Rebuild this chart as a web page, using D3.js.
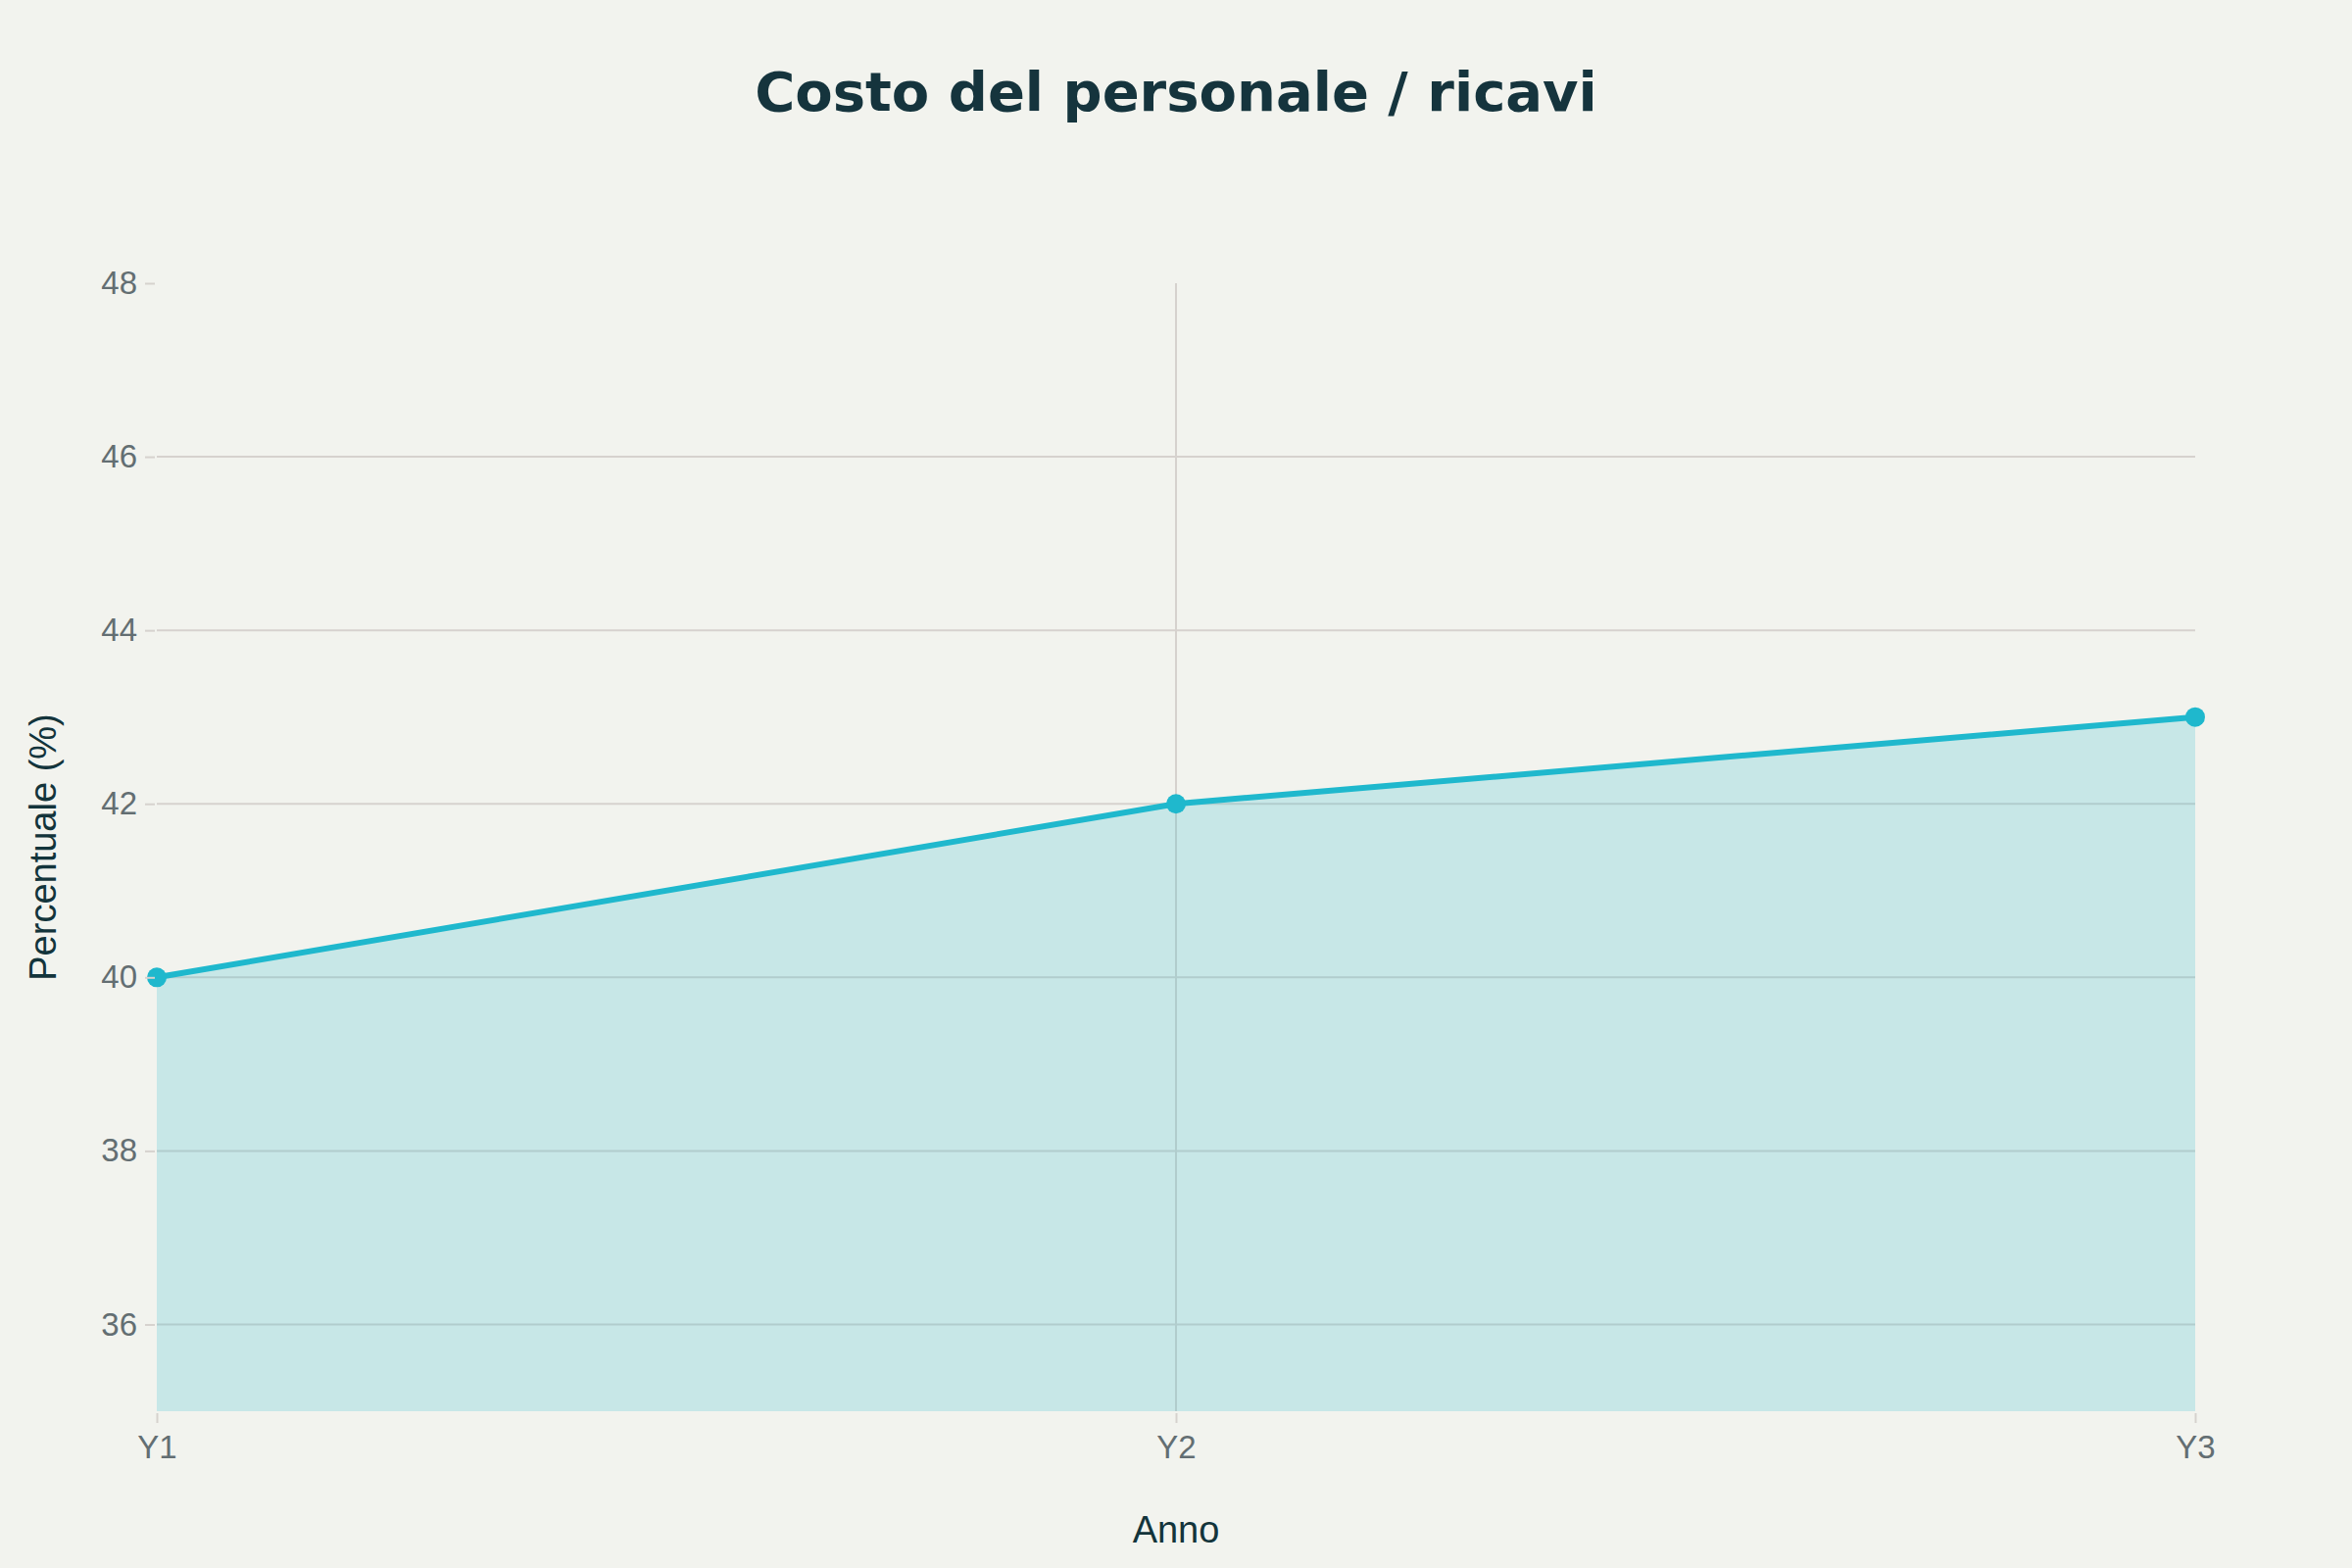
<!DOCTYPE html>
<html>
<head>
  <meta charset="utf-8">
  <title>Costo del personale / ricavi</title>
  <style>
    html, body { margin: 0; padding: 0; background: #f2f3ee; }
    svg { display: block; }
    .tick text { font-family: 'Liberation Sans', Arial, sans-serif; font-size: 33px; fill: #636e72; }
    .axis-title { font-family: 'Liberation Sans', Arial, sans-serif; font-size: 38px; fill: #13343b; }
    .title { font-family: 'DejaVu Sans', Verdana, sans-serif; font-weight: bold; font-size: 56px; fill: #15343d; }
  </style>
</head>
<body>
<svg width="2400" height="1600"></svg>
<script src="https://d3js.org/d3.v7.min.js"></script>
<script>
  // data
  const years = ["Y1", "Y2", "Y3"];
  const values = [40, 42, 43];
  const yTicks = [36, 38, 40, 42, 44, 46, 48];

  const width = 2400, height = 1600;
  const margin = { top: 289, right: 160, bottom: 160, left: 160 };
  const lineColor = "#1fb8cd";
  const gridColor = "#d6d2ce";

  const svg = d3.select("svg");
  const data = years.map((y, i) => ({ year: y, value: values[i] }));

  const x = d3.scalePoint()
      .domain(years)
      .range([margin.left, width - margin.right]);

  const y = d3.scaleLinear()
      .domain([35, 48])
      .range([height - margin.bottom, margin.top]);

  // grid
  const grid = svg.append("g");
  grid.selectAll("line.h")
    .data(yTicks.filter(t => t < 48))
    .join("line")
      .attr("x1", margin.left).attr("x2", width - margin.right)
      .attr("y1", d => y(d)).attr("y2", d => y(d))
      .attr("stroke", gridColor).attr("stroke-width", 2);
  grid.selectAll("line.v")
    .data(years.slice(1, -1))
    .join("line")
      .attr("x1", d => x(d)).attr("x2", d => x(d))
      .attr("y1", margin.top).attr("y2", height - margin.bottom)
      .attr("stroke", gridColor).attr("stroke-width", 2);

  // area + line
  const area = d3.area()
      .x(d => x(d.year))
      .y0(y(35))
      .y1(d => y(d.value));
  svg.append("path")
      .datum(data)
      .attr("d", area)
      .attr("fill", lineColor)
      .attr("fill-opacity", 0.2);

  const line = d3.line()
      .x(d => x(d.year))
      .y(d => y(d.value));
  svg.append("path")
      .datum(data)
      .attr("d", line)
      .attr("fill", "none")
      .attr("stroke", lineColor)
      .attr("stroke-width", 6);

  svg.append("g")
    .selectAll("circle")
    .data(data)
    .join("circle")
      .attr("cx", d => x(d.year))
      .attr("cy", d => y(d.value))
      .attr("r", 10)
      .attr("fill", lineColor);

  // axes
  const yAxis = svg.append("g")
      .attr("transform", `translate(${margin.left - 2},0)`)
      .call(d3.axisLeft(y).tickValues(yTicks).tickSize(10).tickPadding(8));
  yAxis.select(".domain").remove();
  yAxis.selectAll(".tick line").attr("stroke", gridColor).attr("stroke-width", 2);

  const xAxis = svg.append("g")
      .attr("transform", `translate(0,${height - margin.bottom + 2})`)
      .call(d3.axisBottom(x).tickSize(10).tickPadding(13));
  xAxis.select(".domain").remove();
  xAxis.selectAll(".tick line").attr("stroke", gridColor).attr("stroke-width", 2);

  // titles
  svg.append("text")
      .attr("class", "title")
      .attr("x", width / 2)
      .attr("y", 113)
      .attr("text-anchor", "middle")
      .text("Costo del personale / ricavi");

  svg.append("text")
      .attr("class", "axis-title")
      .attr("x", width / 2)
      .attr("y", 1574)
      .attr("text-anchor", "middle")
      .text("Anno");

  svg.append("text")
      .attr("class", "axis-title")
      .attr("transform", `translate(57,${(margin.top + height - margin.bottom) / 2}) rotate(-90)`)
      .attr("text-anchor", "middle")
      .text("Percentuale (%)");
</script>
</body>
</html>
